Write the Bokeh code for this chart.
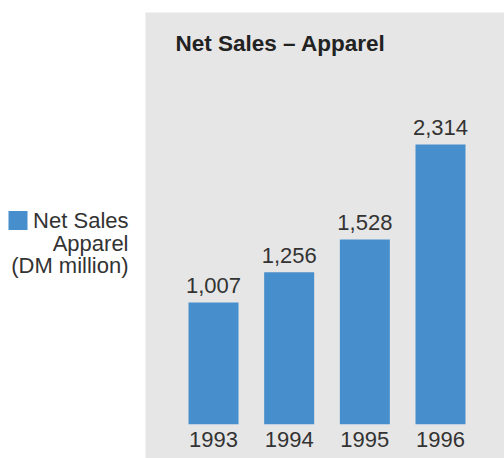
from bokeh.plotting import figure
from bokeh.models import Range1d, ColumnDataSource
from bokeh.core.properties import value
from bokeh.embed import file_html
from bokeh.resources import INLINE

# ---- data ----
years = ["1993", "1994", "1995", "1996"]
sales = [1007, 1256, 1528, 2314]
value_labels = ["1,007", "1,256", "1,528", "2,314"]
title_text = "Net Sales \u2013 Apparel"
legend_lines = ["Net Sales", "Apparel", "(DM million)"]

# ---- layout (pixels) ----
W, H = 504, 458
slot_px = 75.67          # distance between bar centres
bar_w_px = 50
x0_px = 213              # pixel centre of the first bar
zero_px = 423.7          # pixel row of value 0 (from top)
px_per_unit = 0.12089    # vertical pixels per DM million
TXT_SHIFT = 8            # svg text baseline correction (pixels)

x_left = -x0_px / slot_px
x_right = (W - x0_px) / slot_px
y_top = zero_px / px_per_unit
y_bottom = -(H - zero_px) / px_per_unit

def xd(px):
    return (px - x0_px) / slot_px

def yd(py):
    return (zero_px - py) / px_per_unit

p = figure(width=W, height=H, output_backend="svg", toolbar_location=None,
           x_range=Range1d(x_left, x_right), y_range=Range1d(y_bottom, y_top),
           x_axis_location=None, y_axis_location=None, min_border=0,
           tools="")
p.grid.visible = False
p.outline_line_color = None
p.background_fill_color = "white"
p.border_fill_color = "white"

FONT = value("Liberation Sans")
TXT = "#333333"

# grey panel
p.quad(left=[xd(145)], right=[x_right + 1], top=[yd(12)], bottom=[y_bottom - 100],
       fill_color="#e6e6e6", line_color=None)

idx = list(range(len(years)))
src = ColumnDataSource(dict(x=idx, top=sales, year=years, lab=value_labels,
                            zero=[0] * len(years)))

p.vbar(x="x", top="top", bottom=0, width=bar_w_px / slot_px, source=src,
       fill_color="#478ecc", line_color=None)

p.text(x="x", y="top", text="lab", source=src, text_align="center",
       text_baseline="alphabetic", y_offset=-9 - TXT_SHIFT, text_font=FONT,
       text_font_size="22px", text_color=TXT)

p.text(x="x", y="zero", text="year", source=src, text_align="center",
       text_baseline="alphabetic", y_offset=23 - TXT_SHIFT, text_font=FONT,
       text_font_size="22px", text_color=TXT)

# title
p.text(x=[xd(175)], y=[yd(51 - TXT_SHIFT)], text=[title_text], text_align="left",
       text_baseline="alphabetic", text_font=FONT, text_font_style="bold",
       text_font_size="22.5px", text_color="#222222")

# legend
p.scatter(x=[xd(17.5)], y=[yd(220)], marker="square", size=19,
          fill_color="#478ecc", line_color=None)
p.text(x=[xd(128)] * 3,
       y=[yd(228 - TXT_SHIFT), yd(250.5 - TXT_SHIFT), yd(273 - TXT_SHIFT)],
       text=legend_lines,
       text_align="right", text_baseline="alphabetic", text_font=FONT,
       text_font_size="22px", text_color=TXT)

open("out.html", "w").write(file_html(p, INLINE))
